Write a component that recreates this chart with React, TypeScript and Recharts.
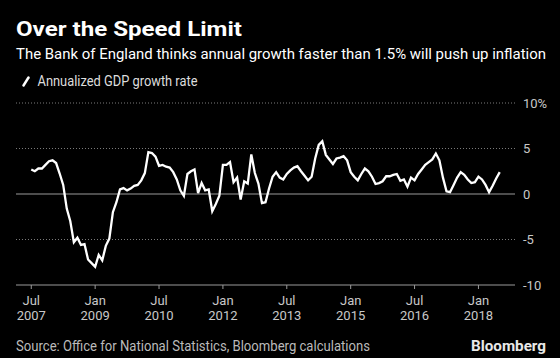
import { LineChart, Line, XAxis, YAxis, ReferenceLine } from 'recharts';

// monthly index: 0 = Jul 2007
const growth = [
  2.7, 2.5, 2.8, 2.8, 3.2, 3.6, 3.7, 3.4, 2.25, 1.0,
  -1.6, -3.0, -5.3, -4.8, -5.6, -5.5, -7.2, -7.6, -8.0, -6.7,
  -7.3, -5.7, -4.9, -2.0, -0.9, 0.5, 0.65, 0.4, 0.6, 0.9,
  1.0, 1.5, 2.3, 4.6, 4.5, 4.1, 3.1, 3.2, 3.0, 2.9,
  2.4, 1.6, 0.4, -0.2, 2.2, 2.5, 2.7, 0.1, 1.2, 0.4,
  0.5, -1.9, -1.1, -0.2, 3.2, 3.2, 3.5, 1.3, 1.8, -0.6,
  1.4, 1.15, 4.35, 2.3, 1.15, -1.0, -0.9, 0.6, 1.9, 2.4,
  1.8, 1.6, 2.2, 2.6, 2.9, 3.05, 2.5, 2.0, 1.5, 1.9,
  3.9, 5.4, 5.8, 4.3, 3.8, 3.3, 3.9, 4.0, 4.15, 3.7,
  2.4, 1.9, 1.5, 2.2, 2.8, 2.5, 1.9, 1.1, 1.2, 1.4,
  1.95, 1.95, 2.1, 2.2, 1.44, 1.6, 0.8, 1.8, 1.5, 2.2,
  2.7, 3.2, 3.5, 3.8, 4.45, 3.7, 1.8, 0.3, 0.2, 1.0,
  1.8, 2.4, 2.1, 1.6, 1.2, 1.3, 1.9, 1.6, 1.0, 0.2,
  0.9, 1.7, 2.4,
];

const tickIdx = [0, 18, 36, 54, 72, 90, 108, 126];
const tickMonths = ['Jul', 'Jan', 'Jul', 'Jan', 'Jul', 'Jan', 'Jul', 'Jan'];
const tickYears = ['2007', '2009', '2010', '2012', '2013', '2015', '2016', '2018'];
const yTicks = [-10, -5, 0, 5, 10];
const dottedLines = [10, 5, -5];

const data = growth.map((v, m) => ({ m, v }));

const FONT = 'Roboto, "DejaVu Sans", sans-serif';

const XTick = (props: any) => {
  const { x, y, payload } = props;
  const i = tickIdx.indexOf(payload.value);
  return (
    <g>
      <text x={x} y={y + 14} textAnchor="middle" fill="#c8c8c8" fontSize={13} fontFamily={FONT}>
        {tickMonths[i]}
      </text>
      <text x={x} y={y + 29} textAnchor="middle" fill="#c8c8c8" fontSize={13} fontFamily={FONT}>
        {tickYears[i]}
      </text>
    </g>
  );
};

export default function App() {
  return (
    <div style={{ position: 'absolute', left: 0, top: 0, width: 560, height: 358, background: '#000', fontFamily: FONT }}>
      <LineChart width={560} height={358} data={data} margin={{ top: 103, right: 0, bottom: 0, left: 16 }}>
        {dottedLines.map((y) => (
          <ReferenceLine key={y} y={y} stroke="#7a7a7a" strokeDasharray="1 2" />
        ))}
        <ReferenceLine y={0} stroke="#9a9a9a" strokeWidth={1.2} />
        <XAxis
          type="number"
          dataKey="m"
          domain={[-4.3, 136.3]}
          allowDataOverflow
          ticks={tickIdx}
          interval={0}
          height={73}
          tickSize={4}
          axisLine={{ stroke: '#9a9a9a' }}
          tickLine={{ stroke: '#9a9a9a' }}
          tick={<XTick />}
        />
        <YAxis
          orientation="right"
          domain={[-10, 10]}
          ticks={yTicks}
          width={45}
          axisLine={false}
          tickLine={false}
          tick={{ fill: '#c8c8c8', fontSize: 13, fontFamily: FONT }}
          tickFormatter={(v) => (v === 10 ? '10%' : String(v))}
        />
        <Line type="linear" dataKey="v" stroke="#fff" strokeWidth={2.3} dot={false} isAnimationActive={false} />
      </LineChart>
      <svg width={560} height={358} style={{ position: 'absolute', left: 0, top: 0, pointerEvents: 'none' }}>
        <text x={16} y={35.5} fill="#fff" fontSize={20} fontWeight={700} fontFamily={FONT} textLength={226} lengthAdjust="spacingAndGlyphs">
          Over the Speed Limit
        </text>
        <text x={16} y={59} fill="#fff" fontSize={15} fontFamily={FONT} textLength={530} lengthAdjust="spacingAndGlyphs">
          The Bank of England thinks annual growth faster than 1.5% will push up inflation
        </text>
        <line x1={23.5} y1={85.5} x2={28.5} y2={77.5} stroke="#fff" strokeWidth={2.5} strokeLinecap="round" />
        <text x={37.5} y={86} fill="#ddd" fontSize={14.5} fontFamily={FONT} textLength={160} lengthAdjust="spacingAndGlyphs">
          Annualized GDP growth rate
        </text>
        <text x={16} y={351} fill="#bbb" fontSize={14} fontFamily={FONT} textLength={354} lengthAdjust="spacingAndGlyphs">
          Source: Office for National Statistics, Bloomberg calculations
        </text>
        <text x={471} y={351} fill="#e8e8e8" fontSize={15} fontWeight={700} fontFamily={FONT} textLength={75} lengthAdjust="spacingAndGlyphs">
          Bloomberg
        </text>
      </svg>
    </div>
  );
}
